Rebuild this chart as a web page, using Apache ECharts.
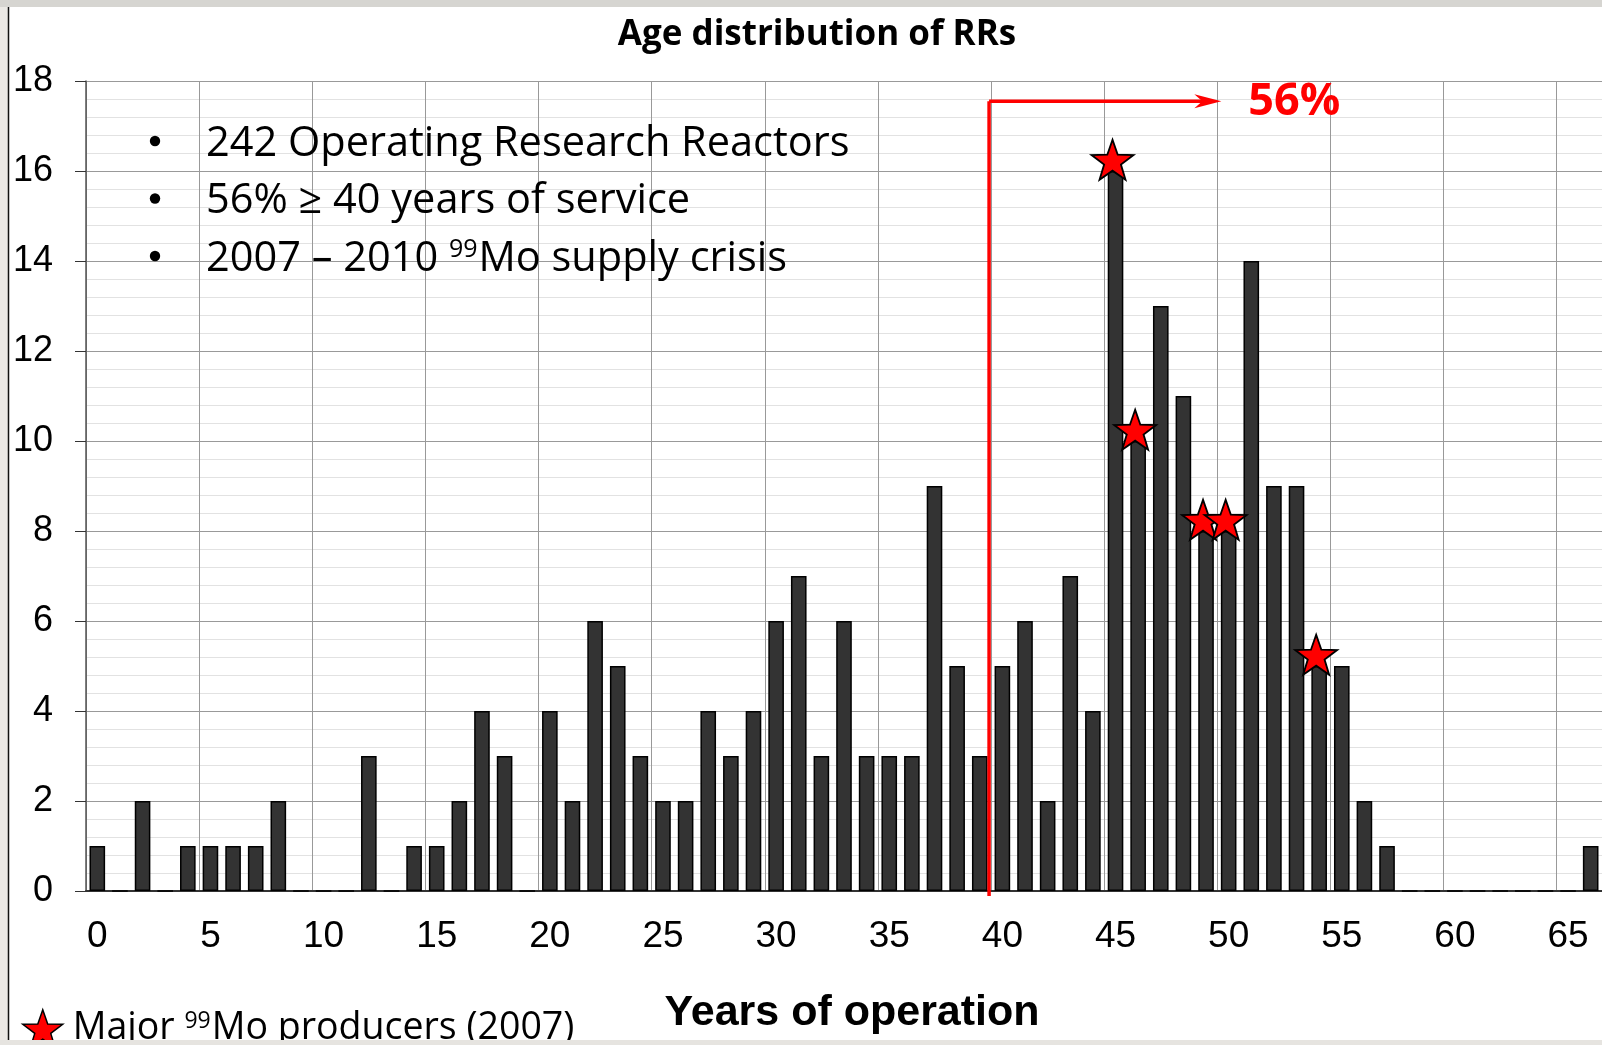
<!DOCTYPE html>
<html>
<head>
    <meta charset="UTF-8">
    <title>Age distribution of RRs</title>
    <script src="https://cdn.jsdelivr.net/npm/echarts@6/dist/echarts.min.js"></script>
    <style>
        html, body { margin: 0; padding: 0; background: #fff; }
        #chart { width: 1602px; height: 1045px; }
    </style>
</head>
<body>
    <div id="chart"></div>

    <script>
        // years of operation (categories) and number of research reactors
        var years = [0, 1, 2, 3, 4, 5, 6, 7, 8, 9, 10, 11, 12, 13, 14, 15, 16, 17, 18, 19,
                     20, 21, 22, 23, 24, 25, 26, 27, 28, 29, 30, 31, 32, 33, 34, 35, 36, 37, 38, 39,
                     40, 41, 42, 43, 44, 45, 46, 47, 48, 49, 50, 51, 52, 53, 54, 55, 56, 57, 58, 59,
                     60, 61, 62, 63, 64, 65, 66];
        var counts = [1, 0, 2, 0, 1, 1, 1, 1, 2, 0, 0, 0, 3, 0, 1, 1, 2, 4, 3, 0,
                      4, 2, 6, 5, 3, 2, 2, 4, 3, 4, 6, 7, 3, 6, 3, 3, 3, 9, 5, 3,
                      5, 6, 2, 7, 4, 16, 10, 13, 11, 8, 8, 14, 9, 9, 5, 5, 2, 1, 0, 0,
                      0, 0, 0, 0, 0, 0, 1];
        // major Mo-99 producers (star markers)
        var producerYears = [45, 46, 49, 50, 54];
        var producerLevels = [16.25, 10.25, 8.25, 8.25, 5.25];
        var yTicks = [0, 18, 2];            // min, max, interval
        var threshold = 40;                 // "≥ 40 years"
        var arrowEnd = 50;
        var arrowLevel = 17.55;
        var shareText = '56%';
        var bullets = ['242 Operating Research Reactors', '56% ≥ 40 years of service', '2007 – 2010 {s|99}Mo supply crisis'];

        function starPath() {
            var pts = [];
            for (var i = 0; i < 10; i++) {
                var r = i % 2 === 0 ? 50 : 20;
                var a = Math.PI / 5 * i - Math.PI / 2;
                pts.push((50 + r * Math.cos(a)).toFixed(2) + ' ' + (50 + r * Math.sin(a)).toFixed(2));
            }
            return 'path://M' + pts.join(' L') + ' Z';
        }
        var STAR = starPath();
        var legendName = 'Major 99Mo producers (2007)';
        var SANS = 'Open Sans';

        var chart = echarts.init(document.getElementById('chart'), null, {renderer: 'canvas'});
        chart.setOption({
            animation: false,
            backgroundColor: '#ffffff',
            grid: {left: 86, top: 81, right: -5, bottom: 154},
            legend: {
                left: 17, top: 1004,
                itemWidth: 40, itemHeight: 39, itemGap: 0,
                data: [{name: legendName, icon: STAR, itemStyle: {color: '#ff0000', borderColor: '#000', borderWidth: 1.5}}],
                formatter: function () { return '{a|Major }{s|99}{a|Mo producers (2007)}'; },
                textStyle: {
                    padding: [0, 0, 0, 5],
                    rich: {
                        a: {fontFamily: SANS, fontSize: 37.5, color: '#000'},
                        s: {fontFamily: SANS, fontSize: 23, color: '#000', padding: [0, 1, 15, 0]}
                    }
                }
            },
            xAxis: {
                type: 'category',
                data: years,
                boundaryGap: true,
                name: 'Years of operation',
                nameLocation: 'middle',
                nameGap: 101,
                nameTextStyle: {fontFamily: 'Liberation Sans', fontWeight: 'bold', fontSize: 43, color: '#000',
                    padding: [0, 0, 0, 16]},
                axisLine: {lineStyle: {color: '#333', width: 2}},
                axisTick: {interval: 4, length: 12, lineStyle: {color: '#333'}},
                axisLabel: {interval: 4, margin: 27, fontFamily: 'Liberation Sans', fontSize: 37, color: '#000'},
                splitLine: {show: true, interval: 4, lineStyle: {color: '#999', width: 1}}
            },
            yAxis: {
                type: 'value',
                min: yTicks[0], max: yTicks[1], interval: yTicks[2],
                axisLine: {show: true, lineStyle: {color: '#555', width: 1.5}},
                axisTick: {show: true, length: 11, lineStyle: {color: '#333'}},
                axisLabel: {margin: 33, fontFamily: 'Liberation Sans', fontSize: 36, color: '#000'},
                splitLine: {lineStyle: {color: '#999', width: 1}},
                minorTick: {show: false, splitNumber: 5},
                minorSplitLine: {show: true, lineStyle: {color: '#e2e2e2', width: 1}}
            },
            series: [{
                type: 'bar',
                data: counts,
                barWidth: '69%',
                itemStyle: {color: '#333333', borderColor: '#000', borderWidth: 1.5}
            }, {
                name: legendName,
                type: 'scatter',
                symbol: STAR,
                symbolSize: [42, 40],
                symbolOffset: [-3, 0],
                data: producerYears.map(function (y, i) { return [String(y), producerLevels[i]]; }),
                itemStyle: {color: '#ff0000', borderColor: '#000', borderWidth: 1.8, opacity: 1},
                z: 5
            }]
        });

        // annotation: red bracket from 40 years with arrow and share label
        var x0 = chart.convertToPixel({xAxisIndex: 0}, String(years[0]));
        var band = chart.convertToPixel({xAxisIndex: 0}, String(years[1])) - x0;
        var xT = chart.convertToPixel({xAxisIndex: 0}, String(threshold)) - band / 2 - 2;
        var xA = chart.convertToPixel({xAxisIndex: 0}, String(arrowEnd)) - band / 2 + 4;
        var yA = chart.convertToPixel({yAxisIndex: 0}, arrowLevel);
        var yZero = chart.convertToPixel({yAxisIndex: 0}, 0);
        var red = '#ff0000';

        var lineGap = 57.5, textTop = 141;
        var bulletGraphics = [];
        bullets.forEach(function (t, i) {
            bulletGraphics.push({type: 'circle', shape: {cx: 155, cy: textTop + i * lineGap, r: 5.2},
                style: {fill: '#000'}, z: 100});
            bulletGraphics.push({type: 'text', x: 206, y: textTop + 3 + i * lineGap, z: 100,
                style: {
                    text: '{a|' + t.replace('{s|99}', '}{s|99}{a|') + '}',
                    rich: {
                        a: {fontFamily: SANS, fontSize: 41.5, fill: '#000'},
                        s: {fontFamily: SANS, fontSize: 25, fill: '#000', padding: [0, 1, 18, 0]}
                    },
                    align: 'left', verticalAlign: 'middle'
                }});
        });

        chart.setOption({
            graphic: [
                // slide frame edges
                {type: 'rect', shape: {x: 0, y: 0, width: 8, height: 1045}, style: {fill: '#ebe9e5'}, z: 100},
                {type: 'rect', shape: {x: 0, y: 0, width: 1602, height: 7}, style: {fill: '#d6d5d1'}, z: 100},
                {type: 'rect', shape: {x: 0, y: 1040, width: 1602, height: 5}, style: {fill: '#e6e4e0'}, z: 100},
                {type: 'line', shape: {x1: 8.5, y1: 7, x2: 8.5, y2: 1040}, style: {stroke: '#111', lineWidth: 1.5}, z: 100},

                {type: 'text', x: 817, y: 35, z: 100,
                    style: {text: 'Age distribution of RRs', fontFamily: SANS, fontWeight: 'bold', fontSize: 35,
                        fill: '#000', align: 'center', verticalAlign: 'middle'}},

                {type: 'line', shape: {x1: xT, y1: yZero + 5, x2: xT, y2: yA}, style: {stroke: red, lineWidth: 3.5}, z: 110},
                {type: 'line', shape: {x1: xT, y1: yA, x2: xA - 12, y2: yA}, style: {stroke: red, lineWidth: 3.5}, z: 110},
                {type: 'polygon', shape: {points: [[xA, yA], [xA - 27, yA - 7], [xA - 19, yA], [xA - 27, yA + 7]]},
                    style: {fill: red}, z: 110},
                {type: 'text', x: xA + 73, y: yA + 1, z: 110,
                    style: {text: shareText, fontFamily: SANS, fontWeight: 'bold', fontSize: 45, fill: red,
                        align: 'center', verticalAlign: 'middle'}}
            ].concat(bulletGraphics)
        });
    </script>
</body>
</html>
